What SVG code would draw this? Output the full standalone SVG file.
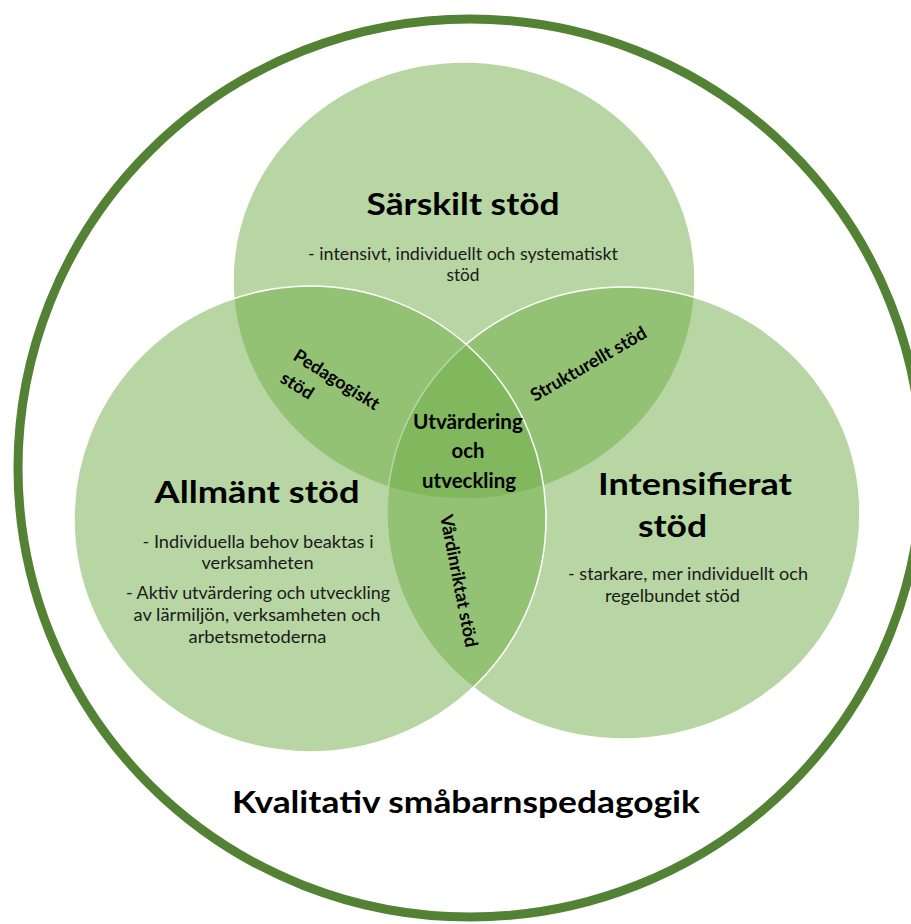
<svg xmlns="http://www.w3.org/2000/svg" width="911" height="924" viewBox="0 0 911 924">
<style>
.c{fill:#70AD47;fill-opacity:0.5;stroke:#ffffff;stroke-width:1.5}
.t{font-family:Lato,"Liberation Sans",sans-serif;fill:#000;text-anchor:middle}
.h{font-size:31px;font-weight:bold}
.b{font-size:17px;fill:#1a1a1a}
.m{font-size:20px;font-weight:bold}
.r{font-family:Lato,"Liberation Sans",sans-serif;font-size:18px;font-weight:bold;fill:#000}
</style>
<rect width="911" height="924" fill="#ffffff"/>
<g id="outer">
<ellipse cx="470" cy="468" rx="452" ry="449" fill="none" stroke="#548235" stroke-width="9"/>
</g>
<g id="sarskilt">
<ellipse class="c" cx="464" cy="280.5" rx="231" ry="218.5"/>
</g>
<g id="intensifierat">
<ellipse class="c" cx="623.5" cy="513" rx="236.5" ry="226"/>
</g>
<g id="allmant">
<ellipse class="c" cx="310" cy="519" rx="236" ry="233"/>
</g>
<g id="sarskilt-text">
<text class="t h" x="463" y="215" textLength="193" lengthAdjust="spacingAndGlyphs">Särskilt stöd</text>
<text class="t b" x="463" y="260" textLength="310" lengthAdjust="spacingAndGlyphs">- intensivt, individuellt och systematiskt</text>
<text class="t b" x="463" y="281" textLength="33" lengthAdjust="spacingAndGlyphs">stöd</text>
</g>
<g id="allmant-text">
<text class="t h" x="257" y="503" textLength="205" lengthAdjust="spacingAndGlyphs">Allmänt stöd</text>
<text class="t b" x="258" y="548" textLength="231" lengthAdjust="spacingAndGlyphs">- Individuella behov beaktas i</text>
<text class="t b" x="257.5" y="569" textLength="112" lengthAdjust="spacingAndGlyphs">verksamheten</text>
<text class="t b" x="258" y="599" textLength="264" lengthAdjust="spacingAndGlyphs">- Aktiv utvärdering och utveckling</text>
<text class="t b" x="257" y="621" textLength="247" lengthAdjust="spacingAndGlyphs">av lärmiljön, verksamheten och</text>
<text class="t b" x="257.5" y="643" textLength="138" lengthAdjust="spacingAndGlyphs">arbetsmetoderna</text>
</g>
<g id="intensifierat-text">
<text class="t h" x="695" y="495" textLength="194" lengthAdjust="spacingAndGlyphs">Intensifierat</text>
<text class="t h" x="672.5" y="537" textLength="69" lengthAdjust="spacingAndGlyphs">stöd</text>
<text class="t b" x="688" y="580" textLength="240" lengthAdjust="spacingAndGlyphs">- starkare, mer individuellt och</text>
<text class="t b" x="672.5" y="602" textLength="135" lengthAdjust="spacingAndGlyphs">regelbundet stöd</text>
</g>
<g id="center">
<text class="t m" x="468" y="429" textLength="110" lengthAdjust="spacingAndGlyphs">Utvärdering</text>
<text class="t m" x="468" y="458" textLength="33" lengthAdjust="spacingAndGlyphs">och</text>
<text class="t m" x="469" y="488" textLength="94" lengthAdjust="spacingAndGlyphs">utveckling</text>
</g>
<g id="pedagogiskt">
<text class="r" transform="translate(292,359) rotate(32)"><tspan x="0" y="0">Pedagogiskt</tspan><tspan x="1" y="26">stöd</tspan></text>
</g>
<g id="strukturellt">
<text class="r" transform="translate(535,402) rotate(-30)">Strukturellt stöd</text>
</g>
<g id="vardinriktat">
<text class="r" transform="translate(440,516) rotate(79)">Vårdinriktat stöd</text>
</g>
<g id="kvalitativ">
<text class="t h" x="466" y="813" textLength="468" lengthAdjust="spacingAndGlyphs">Kvalitativ småbarnspedagogik</text>
</g>
<g id="connectors"/>
</svg>
